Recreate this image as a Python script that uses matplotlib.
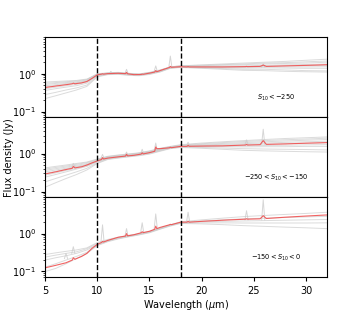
import numpy as np
import matplotlib
matplotlib.use('Agg')
import matplotlib.pyplot as plt

# continuum grid for the individual (gray) spectra
wl = [5, 6, 7, 8, 9, 10, 11, 12, 13, 14, 15, 16, 17, 18, 20, 22, 24, 26, 28, 30, 32]

# grid for the mean (red) spectra, with emission lines
wl_red = [5, 6, 7, 7.6, 7.7, 7.85, 8.5, 9, 9.5, 10, 10.4, 10.5, 10.6, 11, 12, 12.7, 12.8, 12.9,
          13.5, 14.2, 14.3, 14.4, 15, 15.5, 15.6, 15.7, 16, 16.9, 17.0, 17.1, 18, 18.6, 18.7, 18.8,
          20, 22, 24.2, 24.3, 24.4, 25.6, 25.9, 26.2, 28, 30, 32]

red_top = [0.43, 0.47, 0.51, 0.54, 0.56, 0.54, 0.57, 0.62, 0.75, 0.93, 0.97, 0.99, 0.97, 1.0, 1.02,
           1.0, 1.08, 0.99, 0.94, 0.95, 0.97, 0.96, 1.03, 1.1, 1.2, 1.12, 1.2, 1.45, 1.55, 1.47,
           1.52, 1.5, 1.53, 1.5, 1.5, 1.5, 1.53, 1.55, 1.53, 1.55, 1.68, 1.55, 1.6, 1.65, 1.72]
red_mid = [0.29, 0.33, 0.38, 0.41, 0.46, 0.42, 0.45, 0.5, 0.57, 0.64, 0.7, 0.78, 0.72, 0.76, 0.82,
           0.86, 0.96, 0.87, 0.9, 0.97, 1.05, 0.98, 1.06, 1.15, 1.5, 1.35, 1.35, 1.42, 1.47, 1.43,
           1.55, 1.55, 1.65, 1.56, 1.58, 1.6, 1.68, 1.75, 1.68, 1.72, 2.2, 1.75, 1.8, 1.88, 1.95]
red_bot = [0.125, 0.145, 0.17, 0.2, 0.23, 0.21, 0.25, 0.3, 0.41, 0.52, 0.58, 0.62, 0.6, 0.66, 0.8,
           0.86, 1.0, 0.87, 0.93, 1.05, 1.12, 1.06, 1.15, 1.3, 1.57, 1.35, 1.45, 1.7, 1.75, 1.72,
           2.0, 2.0, 2.1, 2.0, 2.1, 2.25, 2.4, 2.45, 2.4, 2.45, 2.95, 2.5, 2.7, 2.9, 3.1]

gray_top = [
    [0.60, 0.62, 0.64, 0.66, 0.72, 0.95, 1.05, 1.08, 1.02, 0.98, 1.08, 1.25, 1.5, 1.6, 1.7, 1.8, 1.9, 2.0, 2.1, 2.25, 2.4],
    [0.56, 0.58, 0.61, 0.64, 0.7, 1.0, 1.04, 1.07, 1.01, 0.97, 1.06, 1.22, 1.5, 1.62, 1.66, 1.72, 1.8, 1.9, 1.95, 2.05, 2.15],
    [0.52, 0.55, 0.58, 0.61, 0.68, 0.98, 1.02, 1.05, 1.0, 0.96, 1.05, 1.2, 1.48, 1.58, 1.62, 1.68, 1.72, 1.8, 1.85, 1.9, 2.0],
    [0.48, 0.51, 0.55, 0.58, 0.65, 0.94, 1.01, 1.03, 0.98, 0.94, 1.03, 1.19, 1.46, 1.55, 1.56, 1.58, 1.6, 1.66, 1.7, 1.74, 1.8],
    [0.45, 0.48, 0.52, 0.56, 0.63, 0.92, 1.0, 1.02, 0.96, 0.93, 1.02, 1.18, 1.45, 1.52, 1.52, 1.52, 1.52, 1.58, 1.6, 1.62, 1.65],
    [0.40, 0.44, 0.48, 0.52, 0.6, 0.9, 0.99, 1.01, 0.95, 0.92, 1.01, 1.16, 1.43, 1.51, 1.48, 1.47, 1.46, 1.5, 1.5, 1.5, 1.52],
    [0.36, 0.4, 0.44, 0.48, 0.56, 0.88, 0.98, 1.0, 0.95, 0.92, 1.0, 1.15, 1.42, 1.5, 1.45, 1.42, 1.4, 1.42, 1.4, 1.38, 1.38],
    [0.28, 0.32, 0.37, 0.42, 0.5, 0.85, 0.96, 0.98, 0.93, 0.9, 0.98, 1.12, 1.4, 1.48, 1.42, 1.36, 1.3, 1.3, 1.25, 1.2, 1.18],
    [0.22, 0.26, 0.31, 0.37, 0.46, 0.82, 0.94, 0.96, 0.9, 0.88, 0.95, 1.1, 1.38, 1.45, 1.38, 1.3, 1.22, 1.2, 1.15, 1.12, 1.1],
]
gray_mid = [
    [0.42, 0.46, 0.5, 0.55, 0.6, 0.72, 0.85, 0.92, 0.98, 1.05, 1.18, 1.38, 1.55, 1.72, 1.9, 2.05, 2.2, 2.35, 2.5, 2.62, 2.75],
    [0.39, 0.43, 0.47, 0.52, 0.58, 0.7, 0.83, 0.9, 0.96, 1.03, 1.15, 1.35, 1.52, 1.68, 1.82, 1.95, 2.08, 2.2, 2.32, 2.42, 2.55],
    [0.36, 0.4, 0.44, 0.49, 0.55, 0.68, 0.82, 0.88, 0.95, 1.02, 1.12, 1.32, 1.5, 1.65, 1.75, 1.85, 1.95, 2.05, 2.15, 2.25, 2.35],
    [0.33, 0.37, 0.41, 0.46, 0.52, 0.66, 0.8, 0.86, 0.92, 0.99, 1.1, 1.3, 1.47, 1.6, 1.68, 1.76, 1.83, 1.9, 1.98, 2.05, 2.12],
    [0.3, 0.34, 0.39, 0.44, 0.5, 0.64, 0.78, 0.84, 0.9, 0.97, 1.07, 1.27, 1.45, 1.58, 1.62, 1.68, 1.72, 1.78, 1.82, 1.88, 1.92],
    [0.27, 0.31, 0.36, 0.41, 0.48, 0.62, 0.76, 0.82, 0.88, 0.95, 1.05, 1.24, 1.43, 1.55, 1.56, 1.58, 1.6, 1.63, 1.66, 1.7, 1.72],
    [0.24, 0.28, 0.33, 0.39, 0.46, 0.6, 0.75, 0.8, 0.87, 0.93, 1.03, 1.22, 1.42, 1.52, 1.52, 1.52, 1.5, 1.52, 1.52, 1.55, 1.55],
    [0.18, 0.22, 0.27, 0.33, 0.41, 0.57, 0.72, 0.78, 0.84, 0.9, 1.0, 1.18, 1.38, 1.48, 1.45, 1.4, 1.35, 1.32, 1.3, 1.28, 1.25],
    [0.13, 0.17, 0.22, 0.28, 0.37, 0.55, 0.7, 0.76, 0.82, 0.88, 0.97, 1.15, 1.35, 1.45, 1.38, 1.3, 1.22, 1.18, 1.15, 1.12, 1.1],
]
gray_bot = [
    [0.28, 0.31, 0.34, 0.37, 0.42, 0.58, 0.7, 0.8, 0.9, 1.0, 1.15, 1.4, 1.7, 2.05, 2.3, 2.55, 2.8, 3.0, 3.2, 3.4, 3.65],
    [0.24, 0.27, 0.3, 0.33, 0.4, 0.55, 0.67, 0.78, 0.88, 0.98, 1.12, 1.38, 1.68, 2.0, 2.15, 2.3, 2.45, 2.55, 2.65, 2.75, 2.85],
    [0.2, 0.23, 0.26, 0.3, 0.37, 0.52, 0.65, 0.76, 0.86, 0.96, 1.1, 1.35, 1.65, 1.95, 2.05, 2.1, 2.15, 2.2, 2.25, 2.3, 2.35],
    [0.13, 0.16, 0.2, 0.25, 0.32, 0.5, 0.63, 0.74, 0.84, 0.94, 1.08, 1.32, 1.62, 1.9, 1.92, 1.92, 1.9, 1.9, 1.9, 1.9, 1.92],
    [0.1, 0.12, 0.16, 0.22, 0.3, 0.48, 0.61, 0.72, 0.82, 0.92, 1.05, 1.3, 1.58, 1.85, 1.8, 1.72, 1.62, 1.55, 1.48, 1.42, 1.35],
]

# strongest lines in the individual spectra: (wavelength, continuum, peak)
lines_top = [(11.3, 1.0, 1.15), (12.8, 1.0, 1.3), (15.6, 1.15, 1.6), (17.0, 1.45, 2.9), (25.9, 1.5, 1.8)]
lines_mid = [(7.7, 0.45, 0.55), (10.5, 0.75, 0.95), (12.8, 0.88, 1.1), (14.3, 1.0, 1.3),
             (15.6, 1.2, 1.9), (18.7, 1.6, 2.0), (24.3, 1.7, 2.3), (25.9, 1.75, 4.4)]
lines_bot = [(7.0, 0.22, 0.3), (7.7, 0.3, 0.45), (10.5, 0.6, 1.7), (12.8, 0.85, 1.35), (14.3, 1.05, 1.93),
             (15.6, 1.35, 3.3), (18.7, 2.0, 3.66), (24.3, 2.3, 4.0), (25.9, 2.3, 7.8)]

labels = [r'$S_{10} < -250$', r'$-250 < S_{10} < -150$', r'$-150 < S_{10} < 0$']

fig, axes = plt.subplots(3, 1, sharex=True, figsize=(3.64, 3.12), dpi=100)
fig.subplots_adjust(left=0.124, right=0.898, bottom=0.111, top=0.88, hspace=0)

panels = [(gray_top, lines_top, red_top), (gray_mid, lines_mid, red_mid), (gray_bot, lines_bot, red_bot)]
for ax, (grays, lines, red), lab in zip(axes, panels, labels):
    for g in grays:
        ax.plot(wl, g, color='0.8', lw=0.7, alpha=0.7)
    for w, c, p in lines:
        ax.plot([w - 0.15, w, w + 0.15], [c, p, c], color='0.8', lw=0.7, alpha=0.8)
    ax.plot(wl_red, red, color='#f04848', lw=0.8, alpha=0.85)
    ax.axvline(10, color='k', ls='--', lw=1)
    ax.axvline(18, color='k', ls='--', lw=1)
    ax.set_yscale('log')
    ax.set_ylim(0.07, 9)
    ax.set_xlim(5, 32)
    ax.tick_params(labelsize=7, width=0.8, length=3)
    ax.tick_params(which='minor', length=1.5, width=0.5)
    ax.text(0.82, 0.24, lab, transform=ax.transAxes, fontsize=4.8, ha='center', va='center')

axes[2].set_xticks([5, 10, 15, 20, 25, 30])
axes[2].set_xlabel(r'Wavelength ($\mu$m)', fontsize=7, labelpad=1)
fig.text(0.025, 0.495, 'Flux density (Jy)', rotation=90, fontsize=7, va='center', ha='center')

plt.savefig('out.png', dpi=100)
